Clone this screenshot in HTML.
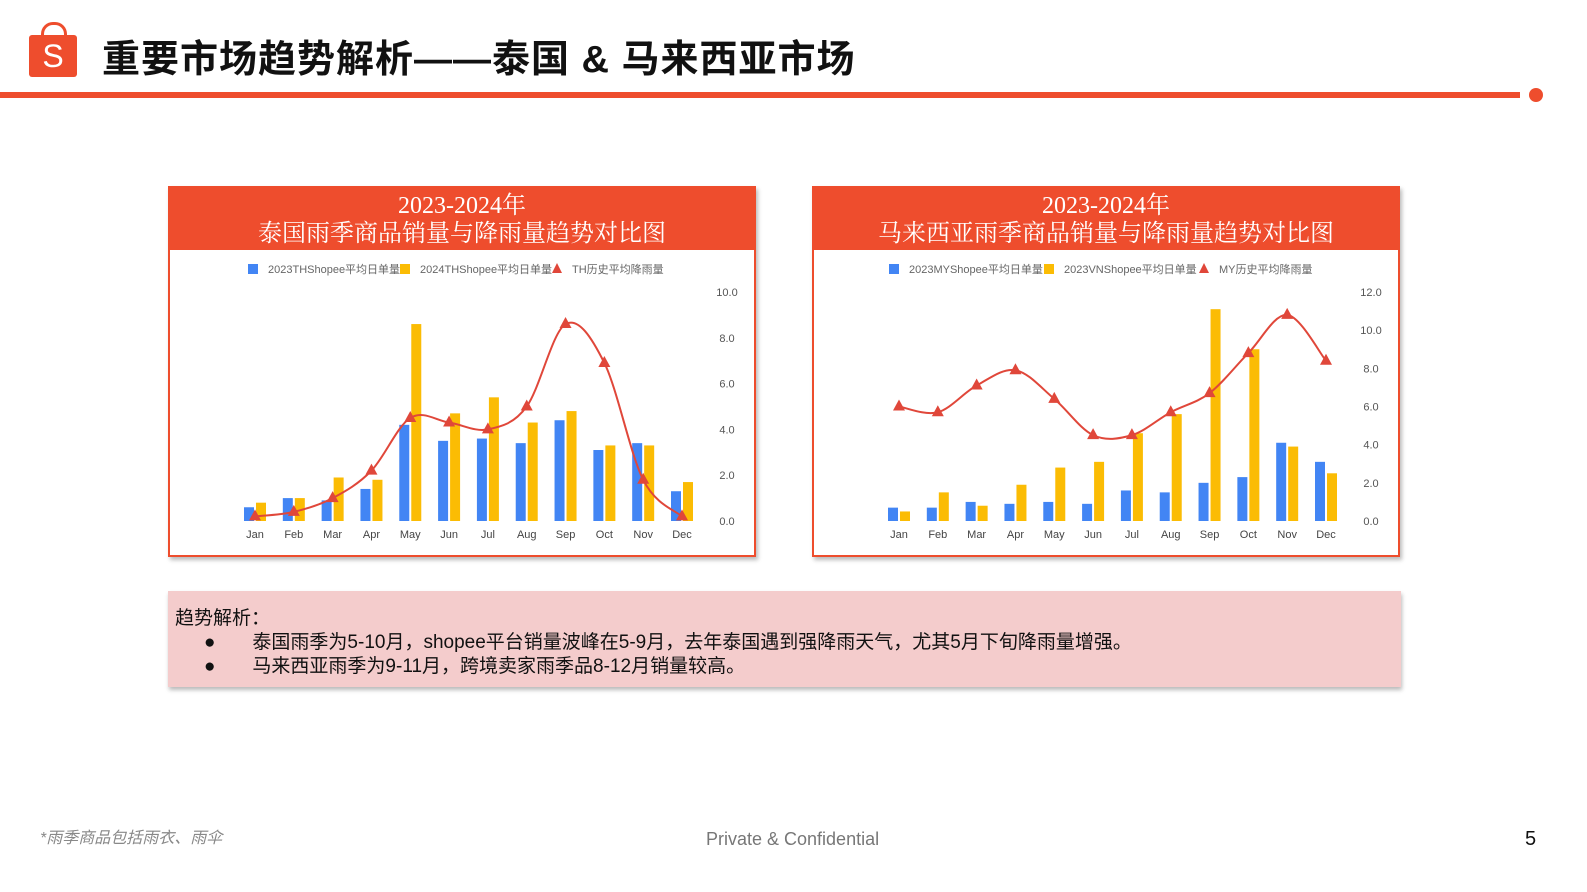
<!DOCTYPE html>
<html><head><meta charset="utf-8">
<style>
body{margin:0;width:1587px;height:892px;position:relative;background:#fff;font-family:"Liberation Sans","Noto Sans CJK SC",sans-serif;overflow:hidden}
.abs{position:absolute}
.title{left:102px;top:28px;font-size:38px;font-weight:bold;color:#111;letter-spacing:1px}
.hdr{background:#ee4d2d;color:#fff;text-align:center;font-size:24px;line-height:28px;padding-top:4px;font-family:"Liberation Serif","Noto Serif CJK SC",serif}
.box{border:2px solid #ee4d2d;background:#fff;box-shadow:2px 3px 4px #bbb}
.note{left:168px;top:591px;width:1233px;height:96px;background:#f4cccc;box-shadow:1px 3px 4px #bbb;font-size:19px;color:#111}
</style></head><body>
<div class="abs" style="left:29px;top:35px;width:48px;height:42px;background:#ee4d2d;border-radius:3px;color:#fff;font-size:32px;text-align:center;line-height:42px">S</div>
<div class="abs" style="left:41px;top:22px;width:20px;height:16px;border:3px solid #ee4d2d;border-bottom:none;border-radius:12px 12px 0 0"></div>
<div class="abs title">重要市场趋势解析——泰国 &amp; 马来西亚市场</div>
<div class="abs" style="left:0;top:92px;width:1520px;height:6px;background:#ee4d2d"></div>
<div class="abs" style="left:1529px;top:88px;width:14px;height:14px;border-radius:50%;background:#ee4d2d"></div>

<div class="abs box" style="left:168px;top:186px;width:584px;height:367px">
<div class="hdr" style="height:58px">2023-2024年<br>泰国雨季商品销量与降雨量趋势对比图</div></div>
<div class="abs box" style="left:812px;top:186px;width:584px;height:367px">
<div class="hdr" style="height:58px">2023-2024年<br>马来西亚雨季商品销量与降雨量趋势对比图</div></div>

<svg class="abs" style="left:0;top:0" width="1587" height="892" id="charts"></svg>

<div class="abs note">
<div style="position:absolute;left:7px;top:12px">趋势解析：</div>
<div style="position:absolute;left:36px;top:36px">●&nbsp;&nbsp;&nbsp;&nbsp;&nbsp;&nbsp;&nbsp;泰国雨季为5-10月，shopee平台销量波峰在5-9月，去年泰国遇到强降雨天气，尤其5月下旬降雨量增强。</div>
<div style="position:absolute;left:36px;top:60px">●&nbsp;&nbsp;&nbsp;&nbsp;&nbsp;&nbsp;&nbsp;马来西亚雨季为9-11月，跨境卖家雨季品8-12月销量较高。</div>
</div>
<div class="abs" style="left:40px;top:824px;font-size:16px;color:#888;font-style:italic">*雨季商品包括雨衣、雨伞</div>
<div class="abs" style="left:706px;top:829px;font-size:18px;color:#777">Private &amp; Confidential</div>
<div class="abs" style="left:1525px;top:828px;font-size:20px;color:#111">5</div>

<script>
const months=["Jan","Feb","Mar","Apr","May","Jun","Jul","Aug","Sep","Oct","Nov","Dec"];
const th2023=[0.6,1.0,0.9,1.4,4.2,3.5,3.6,3.4,4.4,3.1,3.4,1.3];
const th2024=[0.8,1.0,1.9,1.8,8.6,4.7,5.4,4.3,4.8,3.3,3.3,1.7];
const thRain=[0.2,0.4,1.0,2.2,4.5,4.3,4.0,5.0,8.6,6.9,1.8,0.2];
const thTicks=[0,2,4,6,8,10];
const my2023=[0.7,0.7,1.0,0.9,1.0,0.9,1.6,1.5,2.0,2.3,4.1,3.1];
const vn2023=[0.5,1.5,0.8,1.9,2.8,3.1,4.6,5.6,11.1,9.0,3.9,2.5];
const myRain=[6.0,5.7,7.1,7.9,6.4,4.5,4.5,5.7,6.7,8.8,10.8,8.4];
const myTicks=[0,2,4,6,8,10,12];
const svg=document.getElementById('charts');
const NS='http://www.w3.org/2000/svg';
function mk(tag,attrs,parent){const e=document.createElementNS(NS,tag);for(const k in attrs)e.setAttribute(k,attrs[k]);(parent||svg).appendChild(e);return e;}
function draw(cfg){
  const g=mk('g',{});
  
  
  const x=i=>cfg.x0+i*(cfg.x1-cfg.x0)/11;
  const y=v=>521-v*(521-292)/cfg.max;
  cfg.ticks.forEach(t=>{const tx=mk('text',{x:cfg.axX,y:y(t)+4,'font-size':11,fill:'#555','text-anchor':'middle'},g);tx.textContent=t.toFixed(1);
    });
  months.forEach((m,i)=>{const tx=mk('text',{x:x(i),y:538,'font-size':11,fill:'#444','text-anchor':'middle'},g);tx.textContent=m;
    
    const b1=mk('rect',{x:x(i)-11,y:y(cfg.a[i]),width:10,height:521-y(cfg.a[i]),fill:'#4285f4'},g);
    
    const b2=mk('rect',{x:x(i)+1,y:y(cfg.b[i]),width:10,height:521-y(cfg.b[i]),fill:'#fbbc04'},g);
    });
  // smooth line (catmull-rom)
  const p=cfg.r.map((v,i)=>[x(i),y(v)]);
  let d='M'+p[0][0]+','+p[0][1];
  for(let i=0;i<p.length-1;i++){const p0=p[i-1]||p[i],p1=p[i],p2=p[i+1],p3=p[i+2]||p2;
    d+=' C'+(p1[0]+(p2[0]-p0[0])/6)+','+(p1[1]+(p2[1]-p0[1])/6)+' '+(p2[0]-(p3[0]-p1[0])/6)+','+(p2[1]-(p3[1]-p1[1])/6)+' '+p2[0]+','+p2[1];}
  const ln=mk('path',{d:d,fill:'none',stroke:'#e0473a','stroke-width':2},g);
  
  p.forEach(q=>{const tr=mk('polygon',{points:`${q[0]},${q[1]-7} ${q[0]-6},${q[1]+4} ${q[0]+6},${q[1]+4}`,fill:'#e0473a'},g);
    });
  // legend
  const L=cfg.lx;
  const items=[[cfg.la,'#4285f4','sq'],[cfg.lb,'#fbbc04','sq'],[cfg.lr,'#e0473a','tri']];
  let cx=L;
  items.forEach((it,k)=>{
    if(it[2]=='sq'){const s=mk('rect',{x:cx,y:264,width:10,height:10,fill:it[1]},g);}
    else{const s=mk('polygon',{points:`${cx+5},263 ${cx},273 ${cx+10},273`,fill:it[1]},g);}
    const t=mk('text',{x:cx+20,y:273,'font-size':11,fill:'#666'},g);t.textContent=it[0];
    
    cx+=cfg.gaps[k];});
}
draw({id:'th',x0:255,x1:682,max:10,ticks:thTicks,axX:727,a:th2023,b:th2024,r:thRain,lx:248,gaps:[152,152],la:'2023THShopee平均日单量',lb:'2024THShopee平均日单量',lr:'TH历史平均降雨量'});
draw({id:'my',x0:899,x1:1326,max:12,ticks:myTicks,axX:1371,a:my2023,b:vn2023,r:myRain,lx:889,gaps:[155,155],la:'2023MYShopee平均日单量',lb:'2023VNShopee平均日单量',lr:'MY历史平均降雨量'});
</script>
</body></html>
